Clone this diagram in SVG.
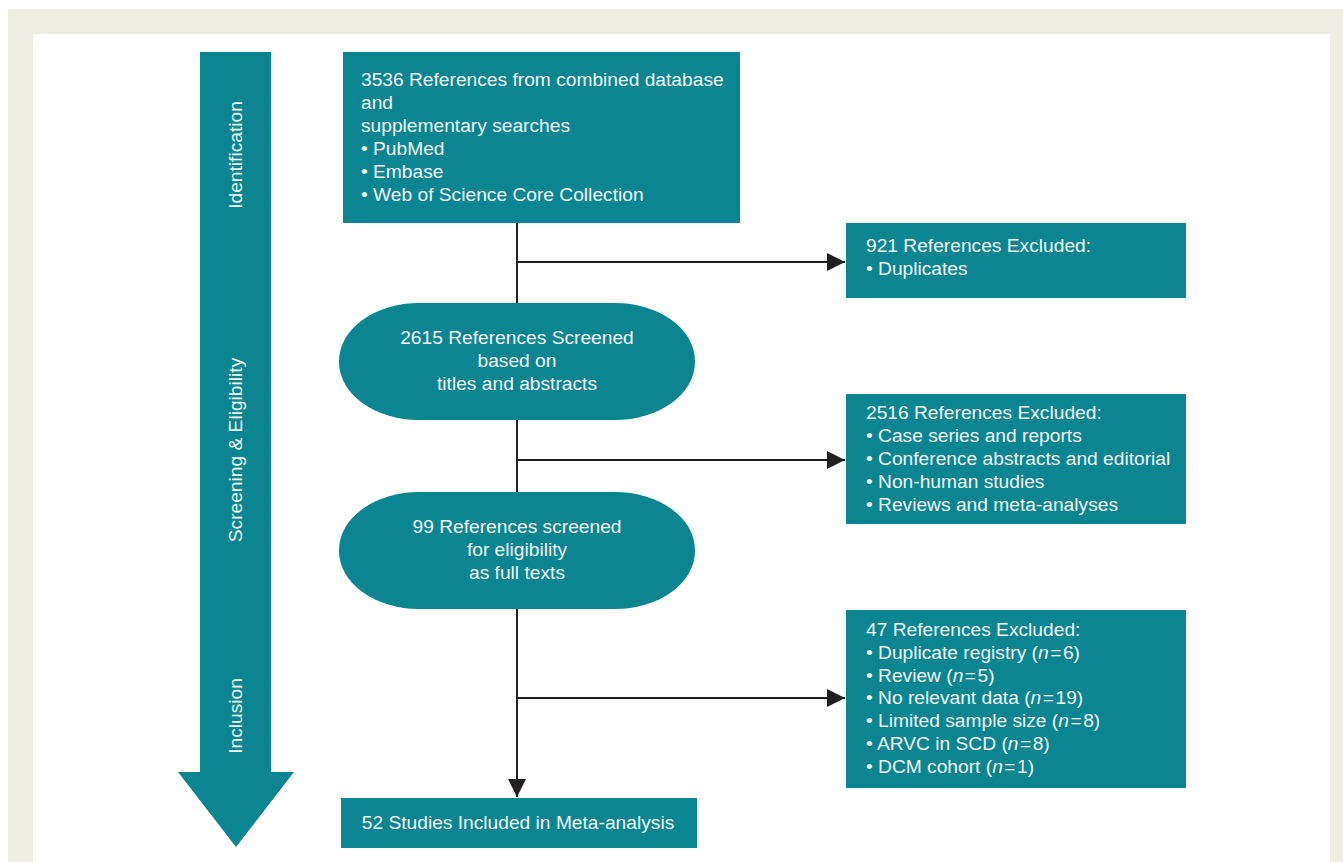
<svg xmlns="http://www.w3.org/2000/svg" width="1343" height="862" viewBox="0 0 1343 862">
<defs>
<style>
.box{fill:#0b8592}
.t{font-family:"Liberation Sans",Arial,sans-serif;font-size:19.2px;fill:#f2f7f7}
.c{text-anchor:middle}
.i{font-style:italic}
.ln{stroke:#231f20;stroke-width:2;fill:none}
</style>
<marker id="ah2" viewBox="0 0 10 10" refX="10" refY="5" markerWidth="9" markerHeight="9" orient="auto">
<path d="M0,0 L10,5 L0,10 Z" fill="#231f20"/>
</marker>
</defs>
<rect x="0" y="0" width="1343" height="862" fill="#ffffff"/>
<rect x="8" y="9" width="1335" height="853" fill="#eeeee2"/>
<rect x="33" y="34" width="1297" height="828" fill="#ffffff"/>

<g id="stage-arrow">
<path class="box" d="M200,52 H271 V772 H294 L236,847 L178,772 H200 Z"/>
<text class="t c" transform="translate(242,155) rotate(-90)">Identification</text>
<text class="t c" transform="translate(242,450) rotate(-90)">Screening &amp; Eligibility</text>
<text class="t c" transform="translate(242,716) rotate(-90)">Inclusion</text>
</g>

<g id="connectors">
<line class="ln" x1="517" y1="223" x2="517" y2="303"/>
<line class="ln" x1="517" y1="420" x2="517" y2="492"/>
<line class="ln" x1="517" y1="609" x2="517" y2="797" marker-end="url(#ah2)"/>
<line class="ln" x1="517" y1="262" x2="845" y2="262" marker-end="url(#ah2)"/>
<line class="ln" x1="517" y1="460" x2="845" y2="460" marker-end="url(#ah2)"/>
<line class="ln" x1="517" y1="698" x2="845" y2="698" marker-end="url(#ah2)"/>
</g>

<g id="n-identified">
<rect class="box" x="343" y="52" width="397" height="171"/>
<text class="t" x="361" y="86">3536 References from combined database</text>
<text class="t" x="361" y="109">and</text>
<text class="t" x="361" y="132">supplementary searches</text>
<text class="t" x="361" y="155">• PubMed</text>
<text class="t" x="361" y="178">• Embase</text>
<text class="t" x="361" y="201">• Web of Science Core Collection</text>
</g>

<g id="n-excl-dup">
<rect class="box" x="846" y="223" width="340" height="75"/>
<text class="t" x="866" y="252">921 References Excluded:</text>
<text class="t" x="866" y="275">• Duplicates</text>
</g>

<g id="n-screened">
<rect class="box" x="339" y="303" width="356" height="117" rx="80" ry="58"/>
<text class="t c" x="517" y="344">2615 References Screened</text>
<text class="t c" x="517" y="367">based on</text>
<text class="t c" x="517" y="390">titles and abstracts</text>
</g>

<g id="n-excl-screen">
<rect class="box" x="846" y="394" width="340" height="130"/>
<text class="t" x="866" y="419">2516 References Excluded:</text>
<text class="t" x="866" y="442">• Case series and reports</text>
<text class="t" x="866" y="465">• Conference abstracts and editorial</text>
<text class="t" x="866" y="488">• Non-human studies</text>
<text class="t" x="866" y="511">• Reviews and meta-analyses</text>
</g>

<g id="n-fulltext">
<rect class="box" x="339" y="492" width="356" height="117" rx="80" ry="58"/>
<text class="t c" x="517" y="533">99 References screened</text>
<text class="t c" x="517" y="556">for eligibility</text>
<text class="t c" x="517" y="579">as full texts</text>
</g>

<g id="n-excl-full">
<rect class="box" x="846" y="610" width="340" height="178"/>
<text class="t" x="866" y="636">47 References Excluded:</text>
<text class="t" x="866" y="659">• Duplicate registry (<tspan class="i">n</tspan><tspan dx="1.5">=</tspan><tspan dx="1.5">6)</tspan></text>
<text class="t" x="866" y="682">• Review (<tspan class="i">n</tspan><tspan dx="1.5">=</tspan><tspan dx="1.5">5)</tspan></text>
<text class="t" x="866" y="704">• No relevant data (<tspan class="i">n</tspan><tspan dx="1.5">=</tspan><tspan dx="1.5">19)</tspan></text>
<text class="t" x="866" y="727">• Limited sample size (<tspan class="i">n</tspan><tspan dx="1.5">=</tspan><tspan dx="1.5">8)</tspan></text>
<text class="t" x="866" y="750">• ARVC in SCD (<tspan class="i">n</tspan><tspan dx="1.5">=</tspan><tspan dx="1.5">8)</tspan></text>
<text class="t" x="866" y="773">• DCM cohort (<tspan class="i">n</tspan><tspan dx="1.5">=</tspan><tspan dx="1.5">1)</tspan></text>
</g>

<g id="n-included">
<rect class="box" x="341" y="798" width="356" height="50"/>
<text class="t c" x="518" y="829">52 Studies Included in Meta-analysis</text>
</g>
</svg>
